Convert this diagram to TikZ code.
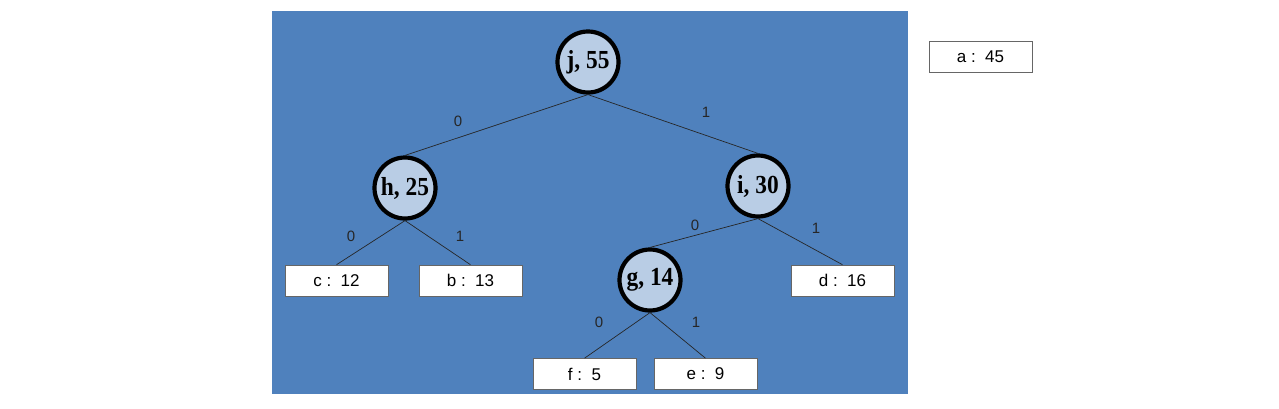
\documentclass[tikz,border=0pt]{standalone}
\usepackage{fontspec}
\setmainfont{Liberation Serif}
\newfontfamily\arialf{Liberation Sans}
\definecolor{bgblue}{HTML}{4F81BD}
\definecolor{nodefill}{HTML}{B9CDE5}
\newcommand{\cl}[1]{\scalebox{0.9}[1]{#1}}
\begin{document}
\begin{tikzpicture}[x=1pt,y=-1pt,
  inner/.style={circle,draw=black,line width=4.2pt,fill=nodefill,minimum size=61pt,inner sep=0pt,font=\fontsize{26}{26}\selectfont\bfseries},
  leaf/.style={rectangle,draw=black!60,line width=0.6pt,fill=white,minimum width=103pt,minimum height=31pt,inner sep=0pt,font=\arialf\fontsize{17}{17}\selectfont},
  edge/.style={draw=black!85,line width=0.7pt},
  elab/.style={font=\arialf\fontsize{15}{15}\selectfont,text=black!85}]
\useasboundingbox (0,0) rectangle (1279,408);
\fill[bgblue] (272,11) rectangle (908,394);
\node[inner] (j) at (588,62) {\cl{j, 55}};
\node[inner] (h) at (405,188) {\cl{h, 25}};
\node[inner] (i) at (758,186) {\cl{i, 30}};
\node[inner] (g) at (650,280) {\cl{g, 14}};
\node[leaf] (c) at (336.5,280.5) {c :\ \ 12};
\node[leaf] (b) at (470.5,280.5) {b :\ \ 13};
\node[leaf] (d) at (842.5,280.5) {d :\ \ 16};
\node[leaf] (f) at (584.5,374) {f :\ \ 5};
\node[leaf] (e) at (705.5,374) {e :\ \ 9};
\node[leaf] (a) at (980.5,56.5) {a :\ \ 45};
\path[edge] (j.south) -- (h.north);
\path[edge] (j.south) -- (i.north);
\path[edge] (h.south) -- (c.north);
\path[edge] (h.south) -- (b.north);
\path[edge] (i.south) -- (g.north);
\path[edge] (i.south) -- (d.north);
\path[edge] (g.south) -- (f.north);
\path[edge] (g.south) -- (e.north);
\node[elab] (l1) at (458,121) {0};
\node[elab] (l2) at (706,112) {1};
\node[elab] (l3) at (351,236) {0};
\node[elab] (l4) at (460,236) {1};
\node[elab] (l5) at (695,225) {0};
\node[elab] (l6) at (816,228) {1};
\node[elab] (l7) at (599,322) {0};
\node[elab] (l8) at (696,322) {1};
\end{tikzpicture}
\end{document}
